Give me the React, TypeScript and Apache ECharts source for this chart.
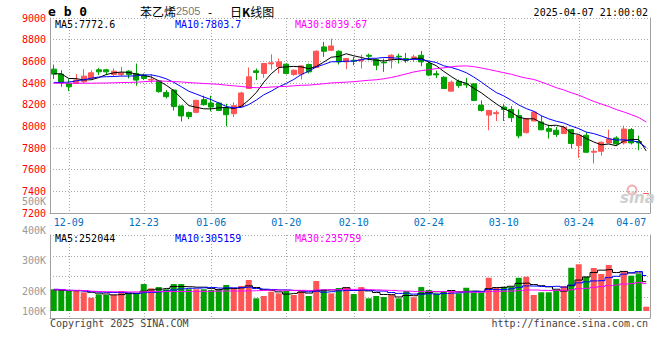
import React, { useEffect, useRef } from "react";
import * as echarts from "echarts";

// ---------- data ----------
const dates = [
  "12-05","12-06","12-09","12-10","12-11","12-12","12-13","12-16","12-17","12-18",
  "12-19","12-20","12-23","12-24","12-25","12-26","12-27","12-30","12-31","01-02",
  "01-03","01-06","01-07","01-08","01-09","01-10","01-13","01-14","01-15","01-16",
  "01-17","01-20","01-21","01-22","01-23","01-24","01-27","02-05","02-06","02-07",
  "02-10","02-11","02-12","02-13","02-14","02-17","02-18","02-19","02-20","02-21",
  "02-24","02-25","02-26","02-27","02-28","03-03","03-04","03-05","03-06","03-07",
  "03-10","03-11","03-12","03-13","03-14","03-17","03-18","03-19","03-20","03-21",
  "03-24","03-25","03-26","03-27","03-28","03-31","04-01","04-02","04-03","04-07",
];

const openP = [
  8528, 8482, 8396, 8396, 8411, 8442, 8522, 8522, 8479, 8479,
  8509, 8488, 8473, 8427, 8420, 8313, 8335, 8188, 8127, 8129,
  8246, 8215, 8215, 8169, 8117, 8184, 8350, 8512, 8488, 8577,
  8549, 8574, 8479, 8482, 8571, 8543, 8733, 8702, 8693, 8595,
  8610, 8604, 8656, 8616, 8592, 8616, 8647, 8626, 8635, 8656,
  8580, 8485, 8453, 8325, 8416, 8392, 8392, 8196, 8104, 8117,
  8178, 8156, 8101, 7942, 8049, 8040, 7979, 7964, 7933, 7970,
  7822, 7918, 7761, 7770, 7847, 7893, 7847, 7970, 7859, 7380,
];
const closeP = [
  8482, 8402, 8365, 8427, 8463, 8494, 8503, 8503, 8509, 8494,
  8479, 8427, 8442, 8434, 8320, 8274, 8182, 8096, 8090, 8240,
  8200, 8178, 8147, 8107, 8191, 8308, 8457, 8497, 8580, 8586,
  8595, 8488, 8518, 8558, 8503, 8693, 8693, 8742, 8595, 8626,
  8601, 8617, 8647, 8564, 8586, 8656, 8641, 8610, 8641, 8595,
  8473, 8475, 8349, 8407, 8376, 8383, 8239, 8147, 8147, 8126,
  8156, 8080, 7912, 8071, 8132, 7968, 7954, 7924, 7991, 7841,
  7918, 7761, 7770, 7853, 7884, 7838, 7975, 7847, 7848, 7380,
];
const highP = [
  8570, 8518, 8436, 8482, 8528, 8518, 8540, 8531, 8534, 8549,
  8518, 8580, 8488, 8482, 8427, 8335, 8341, 8194, 8136, 8245,
  8283, 8283, 8221, 8209, 8221, 8320, 8543, 8534, 8580, 8665,
  8626, 8580, 8524, 8564, 8580, 8702, 8779, 8809, 8702, 8626,
  8641, 8662, 8671, 8626, 8626, 8665, 8671, 8678, 8662, 8696,
  8595, 8515, 8462, 8422, 8432, 8447, 8398, 8239, 8147, 8147,
  8208, 8187, 8156, 8071, 8141, 8099, 8016, 7994, 8007, 7970,
  7918, 7945, 7801, 7862, 7970, 7908, 8007, 7985, 7914, 7380,
];
const lowP = [
  8436, 8365, 8326, 8390, 8396, 8427, 8473, 8473, 8463, 8463,
  8442, 8375, 8427, 8396, 8310, 8258, 8145, 8044, 8066, 8121,
  8191, 8138, 8140, 8000, 8086, 8176, 8344, 8427, 8448, 8524,
  8488, 8479, 8467, 8433, 8488, 8540, 8641, 8696, 8571, 8528,
  8564, 8534, 8610, 8518, 8503, 8534, 8580, 8586, 8595, 8555,
  8463, 8445, 8346, 8325, 8355, 8355, 8233, 8135, 7964, 8049,
  8049, 8040, 7890, 7933, 8049, 7964, 7887, 7902, 7933, 7795,
  7709, 7755, 7657, 7730, 7847, 7822, 7832, 7832, 7779, 7380,
];

const ma5 = [
  8485, 8485, 8442, 8440, 8428, 8430, 8450, 8478, 8494, 8501,
  8498, 8482, 8470, 8455, 8420, 8379, 8330, 8261, 8192, 8176,
  8162, 8161, 8171, 8174, 8165, 8186, 8242, 8312, 8407, 8486,
  8543, 8549, 8553, 8549, 8532, 8552, 8593, 8638, 8645, 8670,
  8651, 8636, 8617, 8611, 8603, 8614, 8619, 8611, 8627, 8629,
  8592, 8559, 8507, 8460, 8416, 8398, 8351, 8310, 8258, 8208,
  8163, 8131, 8084, 8069, 8070, 8033, 8007, 8010, 7994, 7936,
  7926, 7887, 7856, 7829, 7837, 7821, 7864, 7879, 7878, 7773,
];
const ma10 = [
  8405, 8405, 8408, 8420, 8430, 8445, 8455, 8458, 8460, 8464,
  8464, 8466, 8474, 8475, 8461, 8439, 8406, 8366, 8324, 8298,
  8271, 8246, 8216, 8183, 8171, 8174, 8201, 8242, 8291, 8325,
  8365, 8396, 8433, 8478, 8509, 8548, 8571, 8596, 8597, 8601,
  8602, 8615, 8628, 8628, 8636, 8633, 8628, 8614, 8619, 8616,
  8603, 8589, 8559, 8543, 8522, 8495, 8455, 8409, 8359, 8312,
  8281, 8241, 8197, 8164, 8139, 8098, 8069, 8047, 8031, 8003,
  7979, 7947, 7933, 7911, 7886, 7873, 7876, 7868, 7854, 7804,
];
const ma30 = [
  8398, 8398, 8398, 8398, 8398, 8398, 8399, 8400, 8402, 8404,
  8405, 8407, 8412, 8416, 8418, 8416, 8413, 8410, 8404, 8400,
  8395, 8392, 8388, 8380, 8374, 8368, 8360, 8357, 8358, 8363,
  8366, 8369, 8374, 8379, 8380, 8387, 8393, 8401, 8404, 8408,
  8412, 8419, 8425, 8430, 8439, 8451, 8467, 8484, 8502, 8514,
  8523, 8533, 8540, 8550, 8556, 8558, 8551, 8539, 8525, 8510,
  8495, 8481, 8461, 8445, 8433, 8409, 8384, 8357, 8336, 8310,
  8288, 8259, 8230, 8206, 8183, 8155, 8133, 8108, 8081, 8040,
];

// volume, in thousands
const volume = [
  187, 181, 175, 175, 161, 114, 144, 138, 138, 172,
  157, 152, 232, 195, 206, 187, 232, 232, 187, 187,
  187, 181, 181, 224, 195, 215, 267, 109, 129, 166,
  152, 172, 138, 181, 129, 258, 187, 152, 198, 206,
  146, 206, 109, 129, 120, 138, 109, 172, 118, 206,
  181, 152, 172, 172, 152, 200, 161, 161, 286, 200,
  209, 209, 286, 295, 138, 161, 161, 181, 215, 372,
  402, 295, 370, 318, 396, 275, 344, 304, 318, 37,
];
const volMa5 = [
  181, 178, 175, 175, 175.8, 161.2, 153.8, 146.4, 139.0, 141.2,
  149.8, 151.4, 170.2, 181.6, 188.4, 194.4, 210.4, 210.4, 208.8, 205.0,
  205.0, 194.8, 184.6, 192.0, 193.6, 199.2, 216.4, 202.0, 183.0, 177.2,
  164.6, 145.6, 151.4, 161.8, 154.4, 175.6, 178.6, 181.4, 184.8, 200.2,
  177.8, 181.6, 173.0, 159.2, 142.0, 140.4, 121.0, 133.6, 131.4, 148.6,
  157.2, 165.8, 165.8, 176.6, 165.8, 169.6, 171.4, 169.2, 192.0, 201.6,
  203.4, 213.0, 238.0, 239.8, 227.4, 217.8, 208.2, 187.2, 171.2, 218.0,
  266.2, 293.0, 330.8, 351.4, 356.2, 330.8, 340.6, 327.4, 327.4, 252.0,
];
const volMa10 = [
  187, 185, 178, 175, 170, 166, 163, 160, 159, 158.5,
  155.5, 152.6, 158.3, 160.3, 164.8, 172.1, 180.9, 190.3, 195.2, 196.7,
  199.7, 202.6, 197.5, 200.4, 199.3, 202.1, 205.6, 193.3, 187.5, 185.4,
  181.9, 181.0, 176.7, 172.4, 165.8, 170.1, 162.1, 166.4, 173.3, 177.3,
  176.7, 180.1, 177.2, 172.0, 171.1, 159.1, 151.3, 153.3, 145.3, 145.3,
  148.8, 143.4, 149.7, 154.0, 157.2, 163.4, 168.6, 167.5, 184.3, 183.7,
  186.5, 192.2, 203.6, 215.9, 214.5, 210.6, 210.6, 212.6, 205.5, 222.7,
  242.0, 250.6, 259.0, 261.3, 287.1, 298.5, 316.8, 329.1, 339.4, 305.2,
];
const volMa30 = [
  182, 182, 178, 178, 176, 170, 168, 166, 166, 165,
  164, 164, 165, 167, 168, 168, 168, 168, 168, 169,
  169, 170, 171, 172, 172, 172, 173, 175, 177, 180.2,
  179.0, 178.7, 177.5, 177.7, 176.6, 181.4, 182.9, 183.3, 185.3, 186.5,
  186.1, 187.9, 183.8, 181.6, 178.7, 177.1, 173.0, 171.0, 168.7, 169.3,
  169.1, 168.2, 167.9, 166.1, 164.7, 164.2, 160.7, 162.4, 167.6, 168.8,
  170.7, 171.9, 176.8, 180.6, 180.9, 177.7, 176.8, 177.8, 178.4, 183.9,
  192.4, 195.4, 204.1, 210.4, 219.6, 224.2, 232.0, 236.4, 243.9, 235.8,
];

const xTickLabels = ["12-09", "12-23", "01-06", "01-20", "02-10", "02-24", "03-10", "03-24", "04-07"];
const gridDates = ["12-09", "12-23", "01-06", "01-20", "02-10", "02-24", "03-10", "03-24"];
const volTickLabels = ["500K", "400K", "300K", "200K", "100K"];
const priceMaLabels = ["MA5:7772.6", "MA10:7803.7", "MA30:8039.67"];
const volMaLabels = ["MA5:252044", "MA10:305159", "MA30:235759"];
const symbolText = "e b 0";
const productName = "苯乙烯";
const contractCode = "2505";
const chartKind = "日K线图";
const timestamp = "2025-04-07 21:00:02";
const copyright = "Copyright 2025 SINA.COM";
const siteUrl = "http://finance.sina.com.cn";

// ---------- style ----------
const RED = "#ff5555";
const GREEN = "#00a000";
const GRIDC = "#a8a8a8";
const AXISC = "#a0a0a0";
const MA_COLORS = ["#000000", "#0000ff", "#ff00ff"];
const MONO = '"DejaVu Sans Mono", "Liberation Mono", monospace';
const CJK = '"Noto Sans CJK SC", "Noto Sans", sans-serif';

function txt(x: number, y: number, text: string, fill: string, font: string, align = "left", lh = 11) {
  return {
    type: "text",
    x,
    y,
    silent: true,
    z: 100,
    style: {
      text,
      fill,
      font,
      lineHeight: lh,
      align,
      verticalAlign: "middle",
      textAlign: align,
      textVerticalAlign: "middle",
    },
  };
}

export default function App() {
  const ref = useRef<HTMLDivElement>(null);

  useEffect(() => {
    if (!ref.current) return;
    const chart = echarts.init(ref.current, undefined, { renderer: "svg" });

    const candleData = dates.map((_, i) => {
      const v = [openP[i], closeP[i], lowP[i], highP[i]];
      if (openP[i] === closeP[i]) {
        return {
          value: v,
          itemStyle: { color: RED, color0: RED, borderColor: RED, borderColor0: RED },
        };
      }
      return v;
    });
    const volData = volume.map((v, i) => ({
      value: v,
      itemStyle: { color: closeP[i] >= openP[i] ? RED : GREEN },
    }));
    const gridIdx = gridDates.map((d) => dates.indexOf(d));

    const vLines = (xAxisIndex: number, yAxisIndex: number) => ({
      type: "custom",
      xAxisIndex,
      yAxisIndex,
      silent: true,
      z: 1,
      data: gridIdx.map((i) => [i, 0]),
      renderItem: (params: any, api: any) => {
        const cs = params.coordSys;
        const x = Math.round(api.coord([api.value(0), 0])[0]) + 0.5;
        return {
          type: "line",
          shape: { x1: x, y1: cs.y, x2: x, y2: cs.y + cs.height },
          style: { stroke: GRIDC, lineWidth: 1, lineDash: [1, 2] },
        };
      },
    });

    const maLine = (data: number[], color: string, xi: number, yi: number, step?: string) => ({
      type: "line",
      xAxisIndex: xi,
      yAxisIndex: yi,
      data,
      symbol: "none",
      step: step || false,
      silent: true,
      z: 3,
      lineStyle: { color, width: 1 },
    });

    const maLabelX = [55, 175, 295];
    const volLabelY = [201, 230, 260, 291, 311];
    const titleY = 11;

    const graphics: any[] = [
      txt(48, titleY, symbolText, "#000", `bold 13px ${MONO}`, "left", 11),
      {
        type: "text",
        x: 140,
        y: titleY,
        silent: true,
        style: {
          text: `{a|${productName}}{b|${contractCode}}`,
          verticalAlign: "middle",
          textVerticalAlign: "middle",
          rich: {
            a: { font: `12px ${CJK}`, fill: "#000", lineHeight: 11 },
            b: { font: `11px "Liberation Sans", Arial, sans-serif`, fill: "#777", lineHeight: 11 },
          },
        },
      },
      txt(208, titleY, "-", "#000", `12px ${CJK}`, "left", 11),
      {
        type: "text",
        x: 230,
        y: titleY,
        silent: true,
        style: {
          text: `{a|${chartKind.slice(0, 1)}}{k|${chartKind.slice(1, 2)}}{a|${chartKind.slice(2)}}`,
          verticalAlign: "middle",
          textVerticalAlign: "middle",
          rich: {
            a: { font: `12px ${CJK}`, fill: "#000", lineHeight: 11 },
            k: { font: `bold 12px ${CJK}`, fill: "#000", lineHeight: 11 },
          },
        },
      },
      txt(648, 12, timestamp, "#000", `10px ${MONO}`, "right", 10),
      ...priceMaLabels.map((t, i) => txt(maLabelX[i], 24.5, t, MA_COLORS[i], `10px ${MONO}`, "left", 10)),
      ...volMaLabels.map((t, i) => txt(maLabelX[i], 238.5, t, MA_COLORS[i], `10px ${MONO}`, "left", 10)),
      ...volTickLabels.map((t, i) => txt(46, volLabelY[i], t, "#999", `10px ${MONO}`, "right", 10)),
      txt(50, 323.5, copyright, "#444", `10px ${MONO}`, "left", 10),
      txt(648, 323.5, siteUrl, "#444", `10px ${MONO}`, "right", 10),
      {
        type: "circle",
        silent: true,
        z: 0,
        shape: { cx: 632, cy: 190, r: 4.5 },
        style: { fill: "none", stroke: "#f2b0b0", lineWidth: 2 },
      },
      txt(620, 198, "sina", "#cfcfcf", `italic bold 15px "DejaVu Sans", sans-serif`, "left", 14),
    ];

    const option: any = {
      animation: false,
      backgroundColor: "#ffffff",
      grid: [
        { left: 50, top: 18, width: 600, height: 195 },
        { left: 50, top: 235, width: 600, height: 76 },
        { left: 50, top: 235, width: 600, height: 83 },
      ],
      xAxis: [
        {
          gridIndex: 0,
          type: "category",
          data: dates,
          boundaryGap: true,
          axisLine: { show: true, lineStyle: { color: AXISC } },
          axisTick: { show: false },
          splitLine: { show: false },
          axisLabel: {
            interval: (_i: number, v: string) => xTickLabels.includes(v),
            color: "#0070c0",
            fontFamily: MONO,
            fontSize: 10,
            margin: 4,
            alignMaxLabel: "right",
          },
        },
        { gridIndex: 1, type: "category", data: dates, boundaryGap: true, show: false },
        {
          gridIndex: 2,
          type: "category",
          data: dates,
          boundaryGap: true,
          axisLine: { show: true, lineStyle: { color: AXISC } },
          axisTick: { show: false },
          axisLabel: { show: false },
          splitLine: { show: false },
        },
      ],
      yAxis: [
        {
          gridIndex: 0,
          type: "value",
          min: 7200,
          max: 9000,
          interval: 200,
          position: "left",
          axisLine: { show: true, lineStyle: { color: AXISC } },
          axisTick: { show: false },
          axisLabel: {
            color: "#ff0000",
            fontFamily: MONO,
            fontSize: 10,
            margin: 4,
            formatter: (v: number) => String(v),
          },
          splitLine: { show: true, lineStyle: { color: GRIDC, type: [1, 2] } },
        },
        {
          gridIndex: 0,
          type: "value",
          min: 7200,
          max: 9000,
          position: "right",
          axisLine: { show: true, lineStyle: { color: AXISC } },
          axisTick: { show: false },
          axisLabel: { show: false },
          splitLine: { show: false },
        },
        { gridIndex: 1, type: "value", min: 0, max: 654, show: false },
        {
          gridIndex: 2,
          type: "value",
          min: 0,
          max: 4,
          interval: 1,
          position: "left",
          axisLine: { show: true, lineStyle: { color: AXISC } },
          axisTick: { show: false },
          axisLabel: { show: false },
          splitLine: { show: true, lineStyle: { color: GRIDC, type: [1, 2] } },
        },
        {
          gridIndex: 2,
          type: "value",
          min: 0,
          max: 4,
          position: "right",
          axisLine: { show: true, lineStyle: { color: AXISC } },
          axisTick: { show: false },
          axisLabel: { show: false },
          splitLine: { show: false },
        },
      ],
      series: [
        vLines(0, 0),
        vLines(2, 3),
        {
          type: "candlestick",
          xAxisIndex: 0,
          yAxisIndex: 0,
          data: candleData,
          barWidth: 5.5,
          silent: true,
          z: 2,
          itemStyle: {
            color: RED,
            color0: GREEN,
            borderColor: RED,
            borderColor0: GREEN,
            borderWidth: 1,
          },
        },
        maLine(ma5, MA_COLORS[0], 0, 0),
        maLine(ma10, MA_COLORS[1], 0, 0),
        maLine(ma30, MA_COLORS[2], 0, 0),
        {
          type: "bar",
          xAxisIndex: 1,
          yAxisIndex: 2,
          data: volData,
          barWidth: 6,
          silent: true,
          z: 2,
        },
        maLine(volMa5, MA_COLORS[0], 1, 2, "middle"),
        maLine(volMa10, MA_COLORS[1], 1, 2, "middle"),
        maLine(volMa30, MA_COLORS[2], 1, 2, "middle"),
      ],
      graphic: graphics,
    };

    chart.setOption(option);
    return () => chart.dispose();
  }, []);

  return (
    <div
      ref={ref}
      style={{ position: "absolute", left: 0, top: 0, width: 660, height: 360, background: "#fff" }}
    />
  );
}
